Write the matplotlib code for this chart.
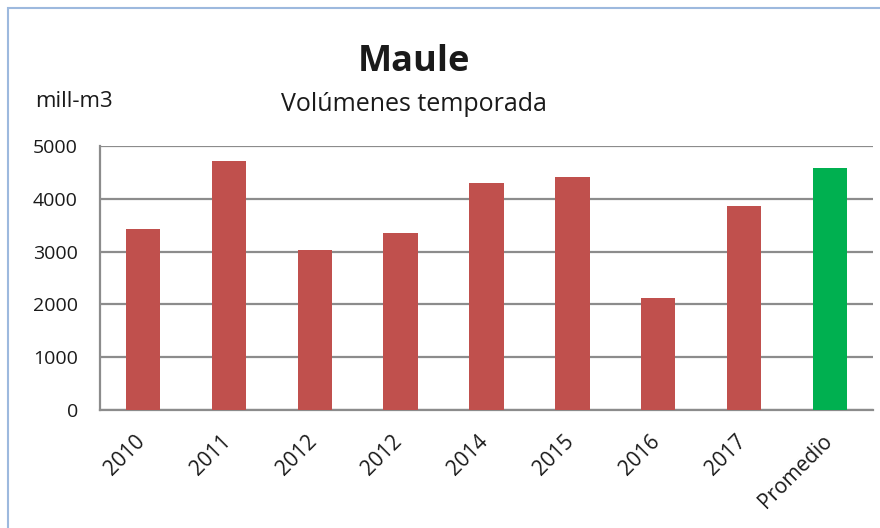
import matplotlib.pyplot as plt
from matplotlib.patches import Rectangle
import matplotlib.transforms as mtransforms

# Datos
categorias = ['2010', '2011', '2012', '2012', '2014', '2015', '2016', '2017', 'Promedio']
volumenes = [3430, 4725, 3035, 3350, 4300, 4410, 2120, 3870, 4580]
colores = ['#C0504D'] * 8 + ['#00B050']
ticks_y = [0, 1000, 2000, 3000, 4000, 5000]

plt.rcParams['font.family'] = ['Open Sans', 'DejaVu Sans']
plt.rcParams['text.color'] = '#1a1a1a'

fig = plt.figure(figsize=(8.8, 5.28), dpi=100)
fig.patch.set_facecolor('white')

# marco exterior azul claro
fig.patches.append(Rectangle((8 / 880, -0.1), 1.2, 1 - 8 / 528 + 0.1,
                             transform=fig.transFigure, fill=False,
                             edgecolor='#9DB9DE', linewidth=1.5))

ax = fig.add_axes([100 / 880, 1 - 410 / 528, 773 / 880, 264 / 528])

x = range(len(categorias))
ax.bar(x, volumenes, width=0.4, color=colores, zorder=3)

ax.set_ylim(0, 5000)
ax.set_xlim(-0.5, len(categorias) - 0.5)
ax.set_yticks(ticks_y)
ax.set_yticklabels([str(v) for v in ticks_y], fontsize=14, color='#1a1a1a')
ax.tick_params(axis='y', length=0, pad=16)
ax.yaxis.grid(True, color='#8C8C8C', linewidth=1.6, zorder=0)
ax.set_axisbelow(True)

ax.set_xticks(list(x))
ax.set_xticklabels(categorias, rotation=45, ha='right', fontsize=15,
                   color='#1a1a1a')
ax.tick_params(axis='x', length=0, pad=15)
offset = mtransforms.ScaledTranslation(6 / 100, 0, fig.dpi_scale_trans)
for lbl in ax.get_xticklabels():
    lbl.set_transform(lbl.get_transform() + offset)

for lado in ['top', 'right']:
    ax.spines[lado].set_visible(False)
ax.spines['left'].set_color('#8C8C8C')
ax.spines['left'].set_linewidth(1.6)
ax.spines['bottom'].set_color('#8C8C8C')
ax.spines['bottom'].set_linewidth(1.6)

fig.text(414 / 880, 1 - 71 / 528, 'Maule', ha='center', va='baseline',
         fontsize=26, fontweight='bold')
fig.text(414 / 880, 1 - 111 / 528, 'Volúmenes temporada', ha='center',
         va='baseline', fontsize=18)
fig.text(35 / 880, 1 - 107 / 528, 'mill-m3', ha='left', va='baseline',
         fontsize=16)

fig.savefig('out.png', dpi=100)
